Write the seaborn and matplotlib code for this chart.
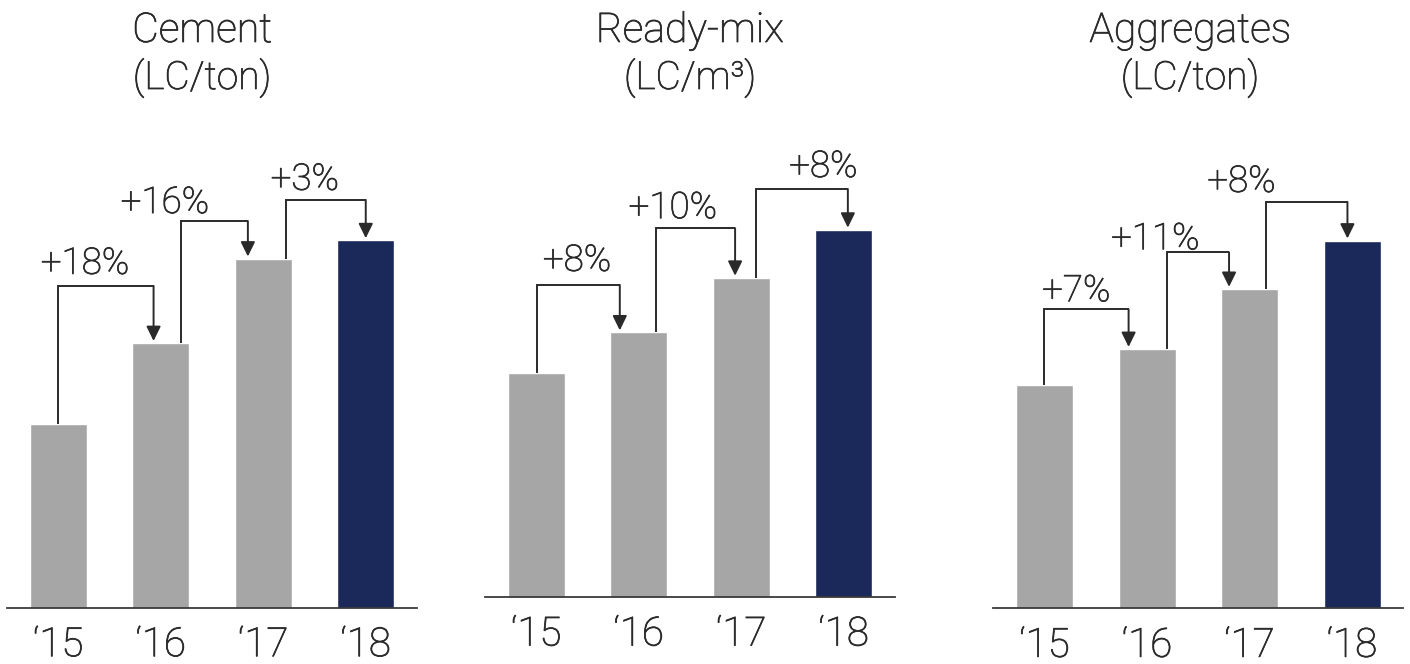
import matplotlib
matplotlib.use("Agg")
import matplotlib.pyplot as plt
import matplotlib.patheffects as pe
import seaborn as sns
import pandas as pd

# ---- data -------------------------------------------------------------
years = ["\u201815", "\u201816", "\u201817", "\u201818"]

cement = [100.0, 118.0, 136.9, 141.0]        # index, 2015 = 100
ready_mix = [100.0, 108.0, 118.8, 128.3]
aggregates = [100.0, 107.0, 118.8, 128.3]

cement_growth = ["+18%", "+16%", "+3%"]
ready_mix_growth = ["+8%", "+10%", "+8%"]
aggregates_growth = ["+7%", "+11%", "+8%"]

titles = ["Cement", "Ready-mix", "Aggregates"]
units = ["(LC/ton)", "(LC/m\u00b3)", "(LC/ton)"]

# ---- style ------------------------------------------------------------
GREY = "#a6a6a6"
NAVY = "#1b285a"
INK = "#2a2a2a"
bar_colors = [GREY, GREY, GREY, NAVY]
# light face with a touch more body
BODY = [pe.withStroke(linewidth=0.55, foreground=INK)]

sns.set_theme(style="white")
plt.rcParams["font.family"] = ["Roboto", "DejaVu Sans"]
plt.rcParams["font.weight"] = "light"

W, H = 1410, 664
fig = plt.figure(figsize=(W / 100, H / 100), dpi=100)

# per-panel layout (pixel boxes, y range, connector geometry)
layout = [
    dict(box=(7, 607.7, 410, 457.7), ylim=(58.8, 161.2),
         start_dx=[0.0, 0.195, 0.22], end_dx=[-0.07, -0.15, 0.0],
         levels=[130.8, 145.3, 150.05],
         label_x=[0.26, 1.04, 2.405], label_gap=[12, 8, 10], title_x=0.476),
    dict(box=(485, 597.0, 410, 447.0), ylim=(55.72, 144.06),
         start_dx=[0.01, 0.17, 0.14], end_dx=[-0.185, -0.06, 0.04],
         levels=[117.4, 128.6, 136.35],
         label_x=[0.397, 1.332, 2.80], label_gap=[14, 10, 12], title_x=0.5),
    dict(box=(993.3, 608.3, 410, 458.3), ylim=(56.06, 146.1),
         start_dx=[-0.01, 0.19, 0.16], end_dx=[-0.18, -0.2, -0.045],
         levels=[114.8, 126.0, 135.9],
         label_x=[0.309, 1.08, 1.92], label_gap=[8, 3, 10], title_x=0.48),
]

series = [cement, ready_mix, aggregates]
growths = [cement_growth, ready_mix_growth, aggregates_growth]

for values, growth, title, unit, lay in zip(series, growths, titles, units, layout):
    x0, base, w, h = lay["box"]
    ax = fig.add_axes([x0 / W, (H - base) / H, w / W, h / H])

    df = pd.DataFrame({"year": years, "value": values})
    sns.barplot(data=df, x="year", y="value", hue="year", palette=bar_colors,
                legend=False, width=0.556, saturation=1, ax=ax)

    ax.set_xlim(-0.5, 3.5)
    ax.set_ylim(*lay["ylim"])
    ax.set_xlabel("")
    ax.set_ylabel("")
    ax.set_yticks([])
    for side in ("left", "right", "top"):
        ax.spines[side].set_visible(False)
    ax.spines["bottom"].set_color("#3a3a3a")
    ax.spines["bottom"].set_linewidth(1.3)
    ax.tick_params(axis="x", length=0, pad=13, labelsize=29, colors=INK)
    for lbl in ax.get_xticklabels():
        lbl.set_path_effects(BODY)
    ax.patch.set_alpha(0)

    # growth connectors: up from bar i, across, and down onto bar i+1
    for i in range(3):
        xs = i + lay["start_dx"][i]
        xe = i + 1 + lay["end_dx"][i]
        lvl = lay["levels"][i]
        ax.plot([xs, xs, xe], [values[i], lvl, lvl], color=INK, lw=1.4,
                solid_joinstyle="miter", solid_capstyle="butt", clip_on=False)
        ax.annotate("", xy=(xe, values[i + 1]), xytext=(xe, lvl),
                    arrowprops=dict(arrowstyle="-|>,head_length=0.55,head_width=0.27",
                                    mutation_scale=16, color=INK, lw=1.4,
                                    shrinkA=0, shrinkB=1.5),
                    annotation_clip=False)
        ax.annotate(growth[i], xy=(lay["label_x"][i], lvl),
                    xytext=(0, lay["label_gap"][i] * 0.72), textcoords="offset points",
                    ha="center", va="baseline", fontsize=26.5, color=INK,
                    fontweight="light", annotation_clip=False, path_effects=BODY)

    # panel heading
    tx = (x0 + lay["title_x"] * w) / W
    fig.text(tx, 1 - 42 / H, title, ha="center", va="baseline",
             fontsize=29.5, color=INK, fontweight="light", path_effects=BODY)
    fig.text(tx, 1 - 89 / H, unit, ha="center", va="baseline",
             fontsize=28, color=INK, fontweight="light", path_effects=BODY)

fig.savefig("out.png", dpi=100, facecolor="white")
